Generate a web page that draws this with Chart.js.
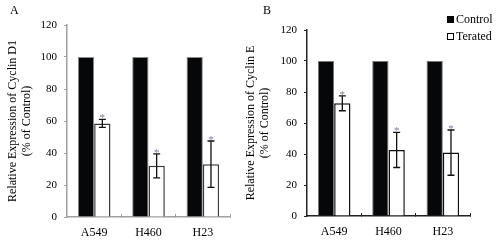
<!DOCTYPE html>
<html lang="en">
<head>
  <meta charset="UTF-8" />
  <title>Relative Expression of Cyclin D1 / Cyclin E</title>
  <script src="https://cdn.jsdelivr.net/npm/chart.js"></script>
  <style>
    body { margin: 0; background: #fff; width: 500px; height: 247px; position: relative; overflow: hidden;
           font-family: "Liberation Serif", "Times New Roman", serif; color: #000; }
    .panel { position: absolute; top: 0; height: 247px; }
    #panelA { left: 0; width: 245px; }
    #panelB { left: 240px; width: 260px; }
    .letter { position: absolute; top: 4px; font-size: 12px; line-height: 12px; }
    #legend { position: absolute; left: 447px; top: 11px; font-size: 12px; }
    #legend div { height: 17px; line-height: 17px; white-space: nowrap; }
    #legend .box { display: inline-block; width: 7px; height: 7px; margin-right: 2px; box-sizing: border-box;
                   border: 1px solid #000; vertical-align: 0px; }
  </style>
</head>
<body>

<div class="panel" id="panelA"><canvas id="chartA"></canvas></div>
<div class="panel" id="panelB"><canvas id="chartB"></canvas></div>
<div class="letter" style="left:10px;">A</div>
<div class="letter" style="left:263px;">B</div>
<div id="legend"></div>

<script>
  const cellLines = ["A549", "H460", "H23"];
  const seriesNames = ["Control", "Terated"];

  // panel A - cyclin D1
  const controlD1 = [100, 100, 100];
  const treatedD1 = [58.5, 32, 33];
  const treatedD1Err = [2.5, 7.5, 14.5];

  // panel B - cyclin E
  const controlE = [100, 100, 100];
  const treatedE = [72.7, 42.6, 40.9];
  const treatedEErr = [4.8, 11.3, 14.6];

  const serif = '"Liberation Serif", "Times New Roman", serif';

  // error bars + asterisk on the treated series
  const errorBars = {
    id: "errorBars",
    afterDatasetsDraw(chart) {
      const { ctx } = chart;
      const y = chart.scales.y;
      const ds = chart.data.datasets[1];
      const meta = chart.getDatasetMeta(1);
      ctx.save();
      meta.data.forEach((bar, i) => {
        const top = y.getPixelForValue(ds.data[i] + ds.errors[i]);
        const bot = y.getPixelForValue(ds.data[i] - ds.errors[i]);
        ctx.strokeStyle = "#111";
        ctx.lineWidth = 1.3;
        ctx.beginPath();
        ctx.moveTo(bar.x, top); ctx.lineTo(bar.x, bot);
        ctx.moveTo(bar.x - 3.5, top); ctx.lineTo(bar.x + 3.5, top);
        ctx.moveTo(bar.x - 3.5, bot); ctx.lineTo(bar.x + 3.5, bot);
        ctx.stroke();
        ctx.fillStyle = "#7d8196";
        ctx.font = "11px " + serif;
        ctx.textAlign = "center";
        ctx.textBaseline = "alphabetic";
        ctx.fillText("*", bar.x, top + 2);
      });
      ctx.restore();
    }
  };

  function makeChart(id, control, treated, errs, o) {
    return new Chart(document.getElementById(id), {
      type: "bar",
      data: {
        labels: cellLines,
        datasets: [
          {
            label: seriesNames[0],
            data: control,
            backgroundColor: "#050708",
            borderColor: o.ctrlBorder,
            borderWidth: 1,
            categoryPercentage: 0.6,
            barPercentage: 1.0
          },
          {
            label: seriesNames[1],
            data: treated,
            errors: errs,
            backgroundColor: "#fff",
            borderColor: o.whiteBorder,
            borderWidth: 1.5,
            categoryPercentage: 0.6,
            barPercentage: 1.0
          }
        ]
      },
      options: {
        responsive: true,
        maintainAspectRatio: false,
        animation: false,
        layout: { padding: o.pad },
        plugins: { legend: { display: false }, tooltip: { enabled: false } },
        scales: {
          x: {
            offset: true,
            grid: { offset: true, drawOnChartArea: false, tickLength: -3, color: o.axis, lineWidth: 1 },
            border: { color: o.axis, width: 1.5 },
            ticks: { color: "#000", font: { family: serif, size: 12 }, padding: 12 },
            afterFit: s => { s.height = o.xHeight; }
          },
          y: {
            min: 0,
            max: 120,
            ticks: { stepSize: 20, color: "#000", font: { family: serif, size: 11 }, padding: 7 },
            grid: { drawOnChartArea: false, tickLength: 3, color: o.axis },
            border: { color: o.axis, width: 1.5 },
            title: {
              display: true,
              text: o.yTitle,
              color: "#000",
              font: { family: serif, size: 12, lineHeight: 1.15 },
              padding: { top: o.titlePad, bottom: 0 }
            },
            afterFit: s => { s.width = 67; }
          }
        }
      },
      plugins: [errorBars]
    });
  }

  makeChart("chartA", controlD1, treatedD1, treatedD1Err, {
    pad: { left: 0, top: 25, right: 15, bottom: 0 },
    xHeight: 30,
    axis: "#a0a0a0",
    ctrlBorder: "#8c8c8c",
    whiteBorder: "#3a3a3a",
    yTitle: ["Relative Expression of Cyclin D1", "(% of Control)"],
    titlePad: 6
  });

  makeChart("chartB", controlE, treatedE, treatedEErr, {
    pad: { left: 0, top: 30, right: 30, bottom: 0 },
    xHeight: 31,
    axis: "#222",
    ctrlBorder: "#777",
    whiteBorder: "#111",
    yTitle: ["Relative Expression of Cyclin E", "(% of Control)"],
    titlePad: 4
  });

  // legend built from the series names
  const fills = ["#000", "#fff"];
  document.getElementById("legend").innerHTML = seriesNames
    .map((n, i) => `<div><span class="box" style="background:${fills[i]}"></span>${n}</div>`)
    .join("");
</script>
</body>
</html>
